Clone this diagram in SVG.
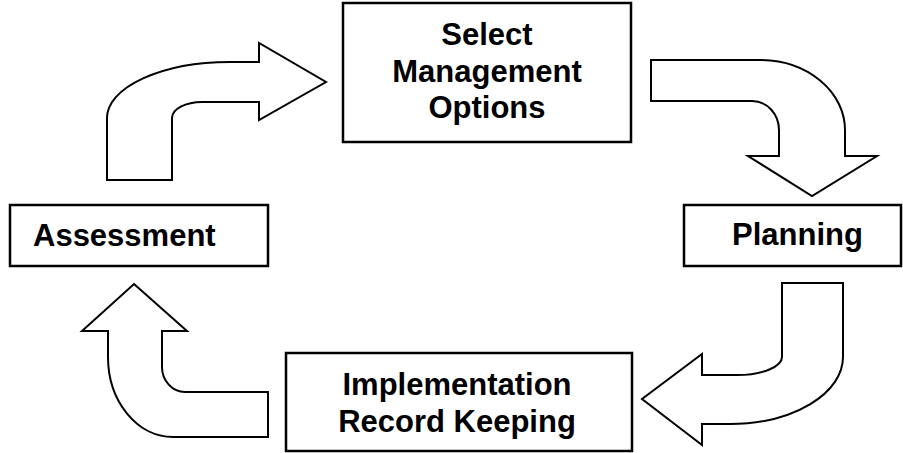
<svg xmlns="http://www.w3.org/2000/svg" width="903" height="453" viewBox="0 0 903 453">
<style>
.box{fill:#fff;stroke:#000;stroke-width:2.5}
.arr{fill:#fff;stroke:#000;stroke-width:2;stroke-linejoin:miter}
.t{font-family:"Liberation Sans",Arial,sans-serif;font-weight:bold;font-size:31px;fill:#000}
.c{text-anchor:middle}
</style>
<rect width="903" height="453" fill="#fff"/>
<g id="connectors">
<path class="arr" d="M107,180 L107,118 A123,56 0 0 1 230,62 L259,62 L259,43 L326,82 L259,120 L259,102 L202,102 A30,16 0 0 0 172,118 L172,180 Z"/>
<path class="arr" d="M651,60 L760,60 A85,70 0 0 1 845,130 L845,156 L877,156 L812,196 L748,156 L779,156 L779,130 A27,29 0 0 0 752,101 L651,101 Z"/>
<path class="arr" d="M782,283 L843,283 L843,357 A113,67 0 0 1 730,424 L702,424 L702,445 L642,399 L702,354 L702,375 L737,375 A45,18 0 0 0 782,357 Z"/>
<path class="arr" d="M134,284 L187,331 L162,331 L162,367 A23,25 0 0 0 185,392 L268,392 L268,437 L173,437 A65,80 0 0 1 108,357 L108,331 L82,331 Z"/>
</g>
<g id="select">
<rect class="box" x="343" y="3" width="288" height="139"/>
<text class="t c" x="487" y="45">Select</text>
<text class="t c" x="487" y="82">Management</text>
<text class="t c" x="487" y="118">Options</text>
</g>
<g id="assessment">
<rect class="box" x="10" y="205" width="258" height="61"/>
<text class="t" x="33" y="246">Assessment</text>
</g>
<g id="planning">
<rect class="box" x="684" y="205" width="217" height="61"/>
<text class="t" x="732" y="245">Planning</text>
</g>
<g id="implementation">
<rect class="box" x="286" y="353" width="346" height="98"/>
<text class="t c" x="457" y="395">Implementation</text>
<text class="t c" x="457" y="432">Record Keeping</text>
</g>
</svg>
